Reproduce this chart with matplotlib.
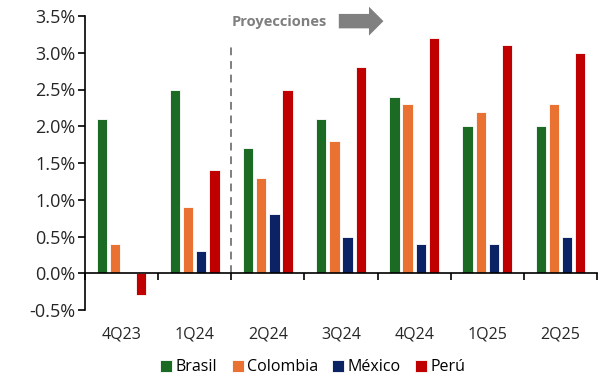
import numpy as np
from matplotlib import pyplot as plt

# data
quarters = ["4Q23", "1Q24", "2Q24", "3Q24", "4Q24", "1Q25", "2Q25"]
brasil = [2.1, 2.5, 1.7, 2.1, 2.4, 2.0, 2.0]
colombia = [0.4, 0.9, 1.3, 1.8, 2.3, 2.2, 2.3]
mexico = [0.0, 0.3, 0.8, 0.5, 0.4, 0.4, 0.5]
peru = [-0.3, 1.4, 2.5, 2.8, 3.2, 3.1, 3.0]

series = [("Brasil", brasil, "#1b6b25"),
          ("Colombia", colombia, "#e97132"),
          ("México", mexico, "#0b2264"),
          ("Perú", peru, "#c00000")]

plt.rcParams['font.family'] = ['Open Sans', 'DejaVu Sans']

fig = plt.figure(figsize=(6.05, 3.79), dpi=100)
ax = fig.add_axes([85 / 605, 1 - 310 / 379, 512 / 605, 294 / 379])

x = np.arange(len(quarters))
slot = 0.18
width = 0.14
for i, (name, vals, col) in enumerate(series):
    ax.bar(x + (i - 1.5) * slot, vals, width, color=col, label=name,
           edgecolor="white", linewidth=0.6)

ax.set_xlim(-0.5, len(quarters) - 0.5)
ax.set_ylim(-0.5, 3.5)
yt = np.arange(-0.5, 3.51, 0.5)
ax.set_yticks(yt)
ax.set_yticklabels([f"{v:.1f}%" for v in yt], fontsize=13, color="#262626")

ax.spines["top"].set_visible(False)
ax.spines["right"].set_visible(False)
ax.spines["bottom"].set_position(("data", 0))
ax.spines["left"].set_linewidth(1.2)
ax.spines["bottom"].set_linewidth(1.2)
ax.tick_params(axis="y", length=5, width=1.2, pad=2)

# group boundary ticks, labels well below
ax.set_xticks(np.arange(-0.5, len(quarters), 1.0))
ax.set_xticklabels([])
ax.tick_params(axis="x", length=5, width=1.2, direction="out")
for xi, q in zip(x, quarters):
    ax.text(xi, -0.84, q, ha="center", va="center", fontsize=11.5, color="#262626")

# projections marker
ax.plot([1.5, 1.5], [0, 3.12], ls=(0, (4, 3)), color="#7f7f7f", lw=1.4)
ax.text(1.5, 3.42, "Proyecciones", ha="left", va="center", fontsize=10.5,
        fontweight="bold", color="#7f7f7f")
ax.annotate("", xy=(3.58, 3.43), xytext=(2.97, 3.43),
            arrowprops=dict(arrowstyle="simple,head_length=0.65,head_width=1.3,tail_width=0.65",
                            color="#808080", lw=0, mutation_scale=16,
                            shrinkA=0, shrinkB=0))

ax.legend(loc="upper center", bbox_to_anchor=(0.445, -0.13), ncol=4, frameon=False,
          fontsize=11.5, handlelength=0.75, handleheight=0.75, handletextpad=0.2,
          columnspacing=0.9, borderpad=0.2)

plt.savefig("out.png", dpi=100)
